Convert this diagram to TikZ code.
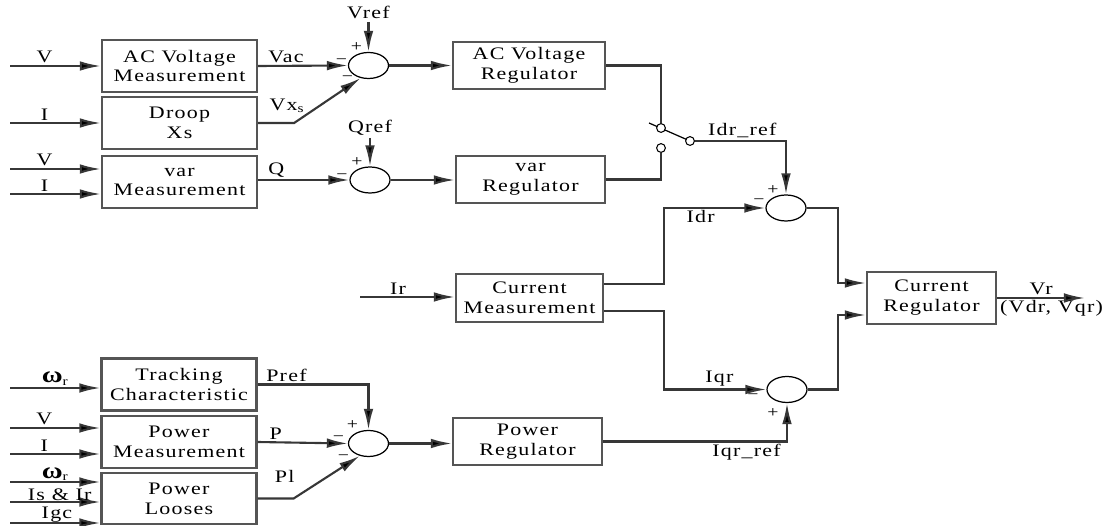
\documentclass[tikz,border=0pt]{standalone}
\usepackage{fontspec}
\setmainfont{Liberation Serif}[FakeStretch=1.25,LetterSpace=7]
\usepackage{xcolor}
\definecolor{linegray}{RGB}{55, 55, 55}
\definecolor{boxgray}{RGB}{85, 85, 85}
\usepackage{tikz}
\usetikzlibrary{positioning, shapes.geometric, calc, arrows.meta}

\tikzset{
  blockbox/.style={draw=boxgray, line width=1.3pt, minimum width=3.1cm,
                   minimum height=1.04cm, align=center, inner sep=1pt,
                   font=\fontsize{10}{11.3}\selectfont},
  sumnode/.style={ellipse, draw=black, line width=0.7pt, minimum width=0.8cm,
                  minimum height=0.52cm, inner sep=0pt},
  sig/.style={draw=linegray, line width=1.2pt,
              -{Latex[length=12pt,width=5.5pt,fill=black]}},
  wire/.style={draw=linegray, line width=1.2pt},
  lbl/.style={font=\fontsize{10}{11}\selectfont, inner sep=1pt},
  sgn/.style={font=\fontsize{9}{9}\selectfont, inner sep=0pt},
  contact/.style={circle, draw=black, line width=0.6pt, minimum size=5pt,
                  inner sep=0pt, fill=white}
}

\begin{document}
\begin{tikzpicture}[x=0.02cm, y=-0.02cm]
    \useasboundingbox (0,0) rectangle (1113,526);

    % measurement blocks
    \node[blockbox] (acm)   at (179.5,66)  {AC Voltage\\Measurement};
    \node[blockbox] (droop) at (179.5,123) {Droop\\Xs};
    \node[blockbox] (varm)  at (179.5,182) {var\\Measurement};
    \node[blockbox] (track) at (179,384.5) {Tracking\\Characteristic};
    \node[blockbox] (pm)    at (179,442)   {Power\\Measurement};
    \node[blockbox, minimum height=1.02cm] (ploss) at (179,498.5) {Power\\Looses};

    % regulators
    \node[blockbox, minimum width=3.04cm, minimum height=0.94cm] (acreg)  at (529,65.5)  {AC Voltage\\Regulator};
    \node[blockbox, minimum width=2.98cm, minimum height=0.94cm] (varreg) at (530.5,179.5) {var\\Regulator};
    \node[blockbox, minimum width=2.94cm, minimum height=0.96cm] (curm)   at (529.5,298) {Current\\Measurement};
    \node[blockbox, minimum width=2.98cm, minimum height=0.94cm] (preg)   at (527.5,441.5) {Power\\Regulator};
    \node[blockbox, minimum width=2.58cm, minimum height=1.04cm] (curreg) at (931.5,298) {Current\\Regulator};

    % summing junctions
    \node[sumnode] (s1) at (368.5,65.5) {};
    \node[sumnode] (s2) at (370,180) {};
    \node[sumnode] (s3) at (786,208) {};
    \node[sumnode] (s4) at (787,389.5) {};
    \node[sumnode] (s5) at (368.5,443.5) {};

    \node[sgn] (s1p) at ($(s1)+(-12,-18)$) {+};
    \node[sgn] (s1m) at ($(s1)+(-27,-4)$) {−};
    \node[sgn] (s1n) at ($(s1)+(-21,13)$) {−};
    \node[sgn] (s2p) at ($(s2)+(-13,-18)$) {+};
    \node[sgn] (s2m) at ($(s2)+(-28,-3)$) {−};
    \node[sgn] (s3p) at ($(s3)+(-13,-18)$) {+};
    \node[sgn] (s3m) at ($(s3)+(-27,-6)$) {−};
    \node[sgn] (s4m) at ($(s4)+(-34,7)$) {−};
    \node[sgn] (s4p) at ($(s4)+(-14,24)$) {+};
    \node[sgn] (s5p) at ($(s5)+(-16,-18)$) {+};
    \node[sgn] (s5m) at ($(s5)+(-30,-5)$) {−};
    \node[sgn] (s5n) at ($(s5)+(-25,14)$) {−};

    % switch
    \coordinate (blade) at (649,123);
    \draw[line width=0.7pt] (blade) -- (690,141);
    \node[contact] (swa) at (661,128) {};
    \node[contact] (swb) at (661,148) {};
    \node[contact] (swc) at (690,141) {};

    % inputs
    \coordinate (inv1) at (10,66);
    \coordinate (ini1) at (10,123);
    \coordinate (inv2) at (10,169);
    \coordinate (ini2) at (10,194);
    \coordinate (inw1) at (10,388);
    \coordinate (inv3) at (10,428);
    \coordinate (ini3) at (10,454);
    \coordinate (inw2) at (10,482);
    \coordinate (inisr) at (10,502);
    \coordinate (inigc) at (10,523);
    \coordinate (inir) at (360,297);
    \coordinate (vref) at (368.5,22);
    \coordinate (qref) at (370,138);
    \coordinate (vrout) at (1085,298);

    \draw[sig] (inv1) -- node[lbl, above, pos=0.38] {V} (acm.west);
    \draw[sig] (ini1) -- node[lbl, above, pos=0.38] {I} (droop.west);
    \draw[sig] (inv2) -- node[lbl, above, pos=0.38] {V} (inv2 -| varm.west);
    \draw[sig] (ini2) -- node[lbl, above, pos=0.38] {I} (ini2 -| varm.west);
    \draw[sig] (inw1) -- node[lbl, above, pos=0.5] {{\fontsize{13}{13}\selectfont\bfseries ω}\textsubscript{r}} (inw1 -| track.west);
    \draw[sig] (inv3) -- node[lbl, above, pos=0.38] {V} (inv3 -| pm.west);
    \draw[sig] (ini3) -- node[lbl, above, pos=0.38] {I} (ini3 -| pm.west);
    \draw[sig] (inw2) -- node[lbl, above, inner sep=0pt, pos=0.5] {{\fontsize{13}{13}\selectfont\bfseries ω}\textsubscript{r}} (inw2 -| ploss.west);
    \draw[sig] (inisr) -- node[lbl, above, inner sep=0pt, pos=0.55] {Is \& Ir} (inisr -| ploss.west);
    \draw[sig] (inigc) -- node[lbl, above, inner sep=0pt, pos=0.52] {Igc} (inigc -| ploss.west);
    \draw[sig] (inir) -- node[lbl, above, pos=0.4] {Ir} (inir -| curm.west);

    % upper loop
    \draw[sig] (vref) node[lbl, above] {Vref} -- (s1.north);
    \draw[sig] (qref) node[lbl, above] {Qref} -- (s2.north);
    \draw[sig] (acm.east) -- node[lbl, above, pos=0.31] {Vac} (s1.west);
    \draw[sig] (droop.east) -- ++(36,0) coordinate (dk) -- (s1.238);
    \node[lbl, anchor=south] (vxs) at ($(dk)+(-7,-8)$) {Vx\textsubscript{s}};
    \draw[sig] (s2.west -| varm.east) -- node[lbl, above, pos=0.2] {Q} (s2.west);
    \draw[sig] (s1.east) -- (s1.east -| acreg.west);
    \draw[sig] (s2.east) -- (s2.east -| varreg.west);
    \draw[wire] (acreg.east) -| (swa.north);
    \draw[wire] (varreg.east) -| (swb.south);
    \draw[sig] (swc.east) -| node[lbl, above, pos=0.26] {Idr\_ref} (s3.north);

    % current loop
    \draw[sig] ($(curm.east)+(0,-14)$) -- ++(60,0) |- node[lbl, below, pos=0.68] {Idr} (s3.west);
    \draw[sig] ($(curm.east)+(0,13)$) -- ++(60,0) |- node[lbl, above, pos=0.77] {Iqr} (s4.west);
    \draw[sig] (preg.east) -| node[lbl, below, pos=0.39] {Iqr\_ref} (s4.south);
    \draw[sig] (s3.east) -- ++(31,0) |- ($(curreg.west)+(0,-15)$);
    \draw[sig] (s4.east) -- ++(30,0) |- ($(curreg.west)+(0,17)$);
    \draw[sig] (curreg.east) -- node[lbl, above] {Vr}
        node[lbl, below, pos=0.62] {(Vdr, Vqr)} (vrout);

    % power loop
    \draw[sig] (track.east) -| node[lbl, above, pos=0.13] {Pref} (s5.north);
    \draw[sig] (pm.east) -- node[lbl, above, pos=0.2] {P} (s5.west);
    \draw[sig] (ploss.east) -- ++(36,0) coordinate (pk) -- (s5.235);
    \node[lbl, anchor=south] (pl) at ($(pk)+(-9,-14)$) {Pl};
    \draw[sig] (s5.east) -- (s5.east -| preg.west);
\end{tikzpicture}
\end{document}
